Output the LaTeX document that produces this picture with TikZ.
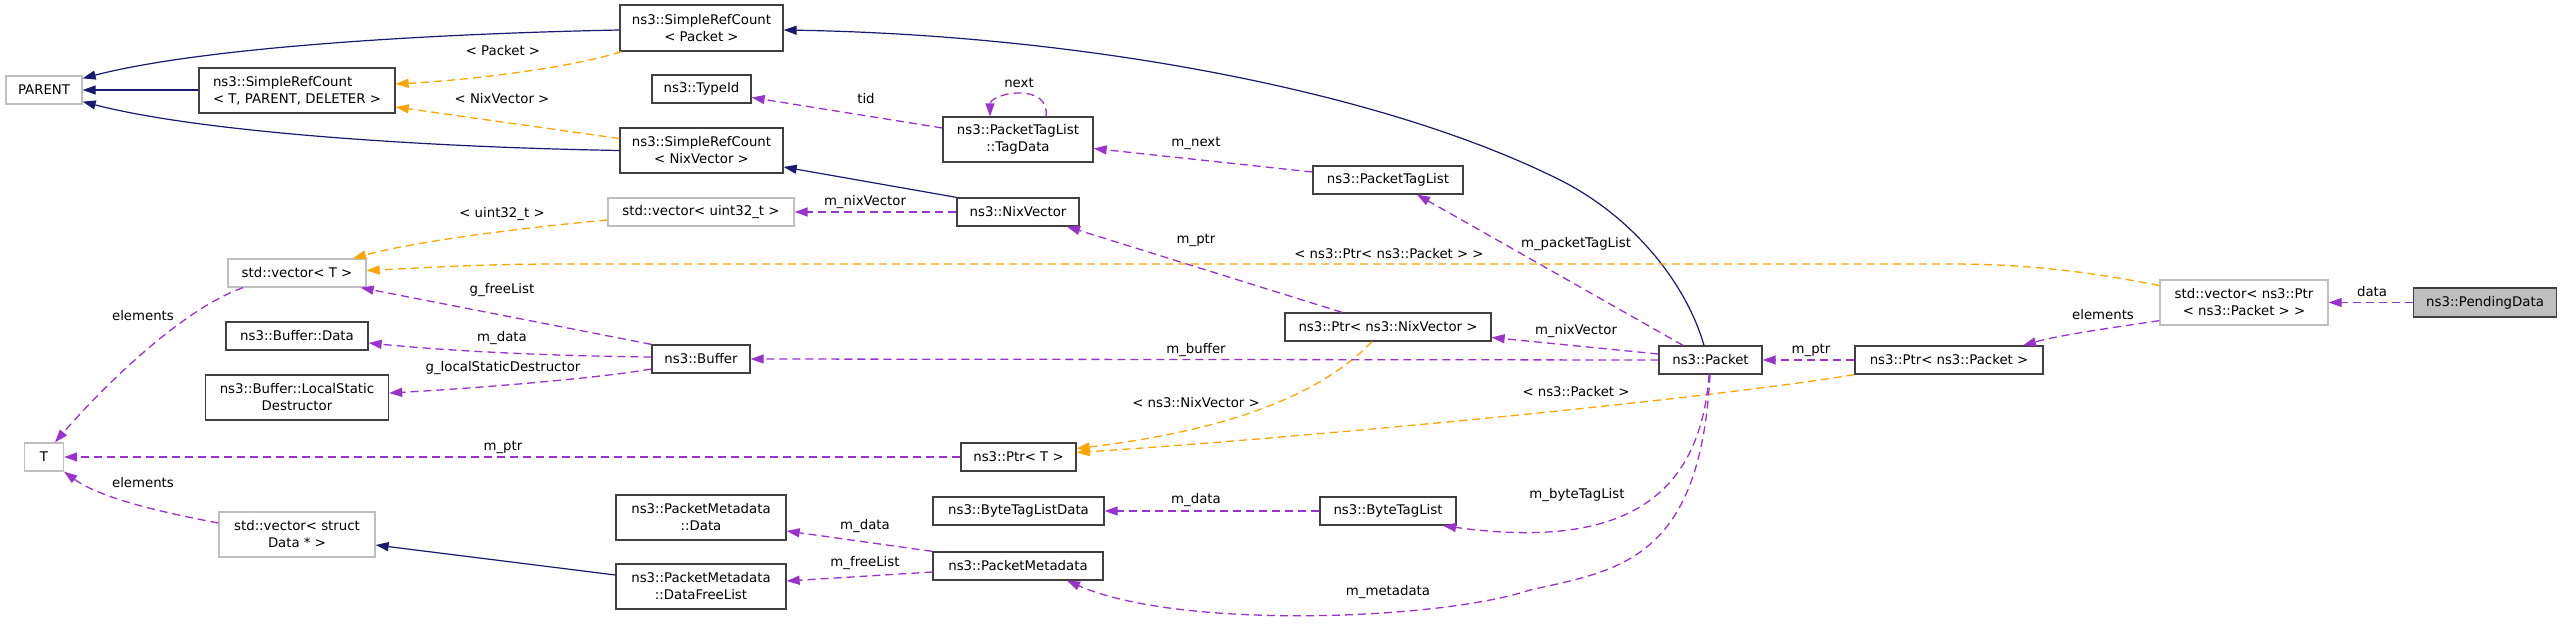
\documentclass[tikz,border=0pt]{standalone}
\usepackage{fontspec}
\setmainfont{DejaVu Sans}
\usetikzlibrary{arrows.meta}
\definecolor{navyc}{HTML}{191970}
\definecolor{purp}{HTML}{9A32CD}
\definecolor{orng}{HTML}{FFA500}
\definecolor{bline}{HTML}{404040}
\definecolor{gline}{HTML}{BFBFBF}
\tikzset{
  box/.style={draw=bline, line width=1.3pt, inner sep=0pt, align=center, font=\fontsize{13.3}{17}\selectfont},
  gbox/.style={box, draw=gline},
  lbl/.style={inner sep=0pt, font=\fontsize{13.3}{17}\selectfont},
  tipa/.style={-{Triangle[length=13pt,width=9pt]}},
  inh/.style={draw=navyc, line width=1.2pt, tipa},
  use/.style={draw=purp, line width=1.3pt, dash pattern=on 8pt off 5pt, tipa},
  tpl/.style={draw=orng, line width=1.3pt, dash pattern=on 8pt off 5pt, tipa},
}
\begin{document}
\begin{tikzpicture}[x=1pt,y=-1pt]
\useasboundingbox (0,0) rectangle (2563,624);
\fill[white] (0,0) rectangle (2563,624);
% nodes
\node[gbox, minimum width=76pt, minimum height=28pt] (parent) at (44,90) {PARENT};
\node[box, minimum width=196pt, minimum height=45pt, align=left] (srctpd) at (297,90.5) {ns3::SimpleRefCount\\< T, PARENT, DELETER >};
\node[box, minimum width=163pt, minimum height=46pt] (srcp) at (701.5,28) {ns3::SimpleRefCount\\< Packet >};
\node[box, minimum width=99pt, minimum height=28pt] (typeid) at (701.5,89) {ns3::TypeId};
\node[box, minimum width=163pt, minimum height=45pt] (srcn) at (701.5,150.5) {ns3::SimpleRefCount\\< NixVector >};
\node[gbox, minimum width=186pt, minimum height=28pt] (vecu) at (701,212) {std::vector< uint32\_t >};
\node[gbox, minimum width=138pt, minimum height=28pt] (vect) at (297,273) {std::vector< T >};
\node[box, minimum width=142pt, minimum height=28pt] (bdata) at (297,336) {ns3::Buffer::Data};
\node[box, minimum width=183pt, minimum height=45pt] (lsd) at (297,397.5) {ns3::Buffer::LocalStatic\\Destructor};
\node[box, minimum width=98pt, minimum height=28pt] (buffer) at (701,359) {ns3::Buffer};
\node[gbox, minimum width=39pt, minimum height=28pt] (T) at (44,457) {T};
\node[gbox, minimum width=156pt, minimum height=45pt] (vecs) at (297,534.5) {std::vector< struct\\Data * >};
\node[box, minimum width=170pt, minimum height=45pt] (pmdata) at (701,517.5) {ns3::PacketMetadata\\::Data};
\node[box, minimum width=170pt, minimum height=45pt] (dfl) at (701,586.5) {ns3::PacketMetadata\\::DataFreeList};
\node[box, minimum width=150pt, minimum height=45pt] (tagdata) at (1018,139.5) {ns3::PacketTagList\\::TagData};
\node[box, minimum width=122pt, minimum height=28pt] (nix) at (1018,212) {ns3::NixVector};
\node[box, minimum width=115pt, minimum height=28pt] (ptrt) at (1018.5,457) {ns3::Ptr< T >};
\node[box, minimum width=171pt, minimum height=28pt] (btld) at (1018.5,511) {ns3::ByteTagListData};
\node[box, minimum width=170pt, minimum height=28pt] (pm) at (1018,566) {ns3::PacketMetadata};
\node[box, minimum width=150pt, minimum height=28pt] (ptl) at (1388,180) {ns3::PacketTagList};
\node[box, minimum width=206pt, minimum height=28pt] (ptrn) at (1388,327) {ns3::Ptr< ns3::NixVector >};
\node[box, minimum width=136pt, minimum height=28pt] (btl) at (1388,511) {ns3::ByteTagList};
\node[box, minimum width=103pt, minimum height=28pt] (pkt) at (1710.5,360) {ns3::Packet};
\node[box, minimum width=188pt, minimum height=28pt] (ptrp) at (1949,360) {ns3::Ptr< ns3::Packet >};
\node[gbox, minimum width=168pt, minimum height=45pt] (vecp) at (2244,302.5) {std::vector< ns3::Ptr\\< ns3::Packet > >};
\node[box, fill=gline, minimum width=143pt, minimum height=29pt] (pend) at (2485,302.5) {ns3::PendingData};

% inheritance edges
\draw[inh] ([yshift=-2pt]srcp.west) .. controls (420,34) and (200,48) .. ([yshift=-3pt]parent.north east);
\draw[inh] ([yshift=0.5pt]srctpd.west) -- (parent.east);
\draw[inh] (srcn.west) .. controls (420,147) and (200,132) .. ([yshift=3pt]parent.south east);
\draw[inh] ([xshift=-6.5pt]pkt.north) .. controls (1685,280) and (1630,215) .. (1560,180) .. controls (1380,90) and (1080,35) .. ([yshift=-2pt]srcp.east);
\draw[inh] (nix.north west) -- ([yshift=-16.5pt]srcn.east);
\draw[inh] ([yshift=11.5pt]dfl.west) -- ([yshift=-10.5pt]vecs.east);

% template edges
\draw[tpl] ([xshift=2pt]srcp.south west) .. controls (570,68) and (470,80) .. ([yshift=6.5pt]srctpd.east);
\draw[tpl] ([yshift=12pt]srcn.west) -- ([yshift=-16.5pt]srctpd.east);
\draw[tpl] ([yshift=-8pt]vecu.west) .. controls (540,226) and (420,240) .. ([xshift=56pt]vect.north);
\draw[tpl] ([yshift=17pt]vecp.west) .. controls (2080,270) and (2020,264) .. (1950,264) -- (560,264) .. controls (480,264) and (420,268) .. ([yshift=2.5pt]vect.east);
\draw[tpl] (ptrp.south west) .. controls (1700,400) and (1300,438) .. ([yshift=4.5pt]ptrt.east);
\draw[tpl] ([xshift=-16pt]ptrn.south) .. controls (1320,395) and (1230,430) .. ([yshift=8.5pt]ptrt.east);

% usage edges
\draw[use] ([yshift=11.5pt]tagdata.west) -- ([yshift=-8.5pt]typeid.east);
\draw[use] ([xshift=28pt]tagdata.north) .. controls (1048,100) and (1036,93) .. (1019,93) .. controls (1002,93) and (990,100) .. ([xshift=-28pt]tagdata.north);
\draw[use] ([yshift=8pt]ptl.west) -- ([yshift=-9pt]tagdata.east);
\draw[use] ([xshift=-27.5pt]pkt.north) -- ([xshift=29pt]ptl.south);
\draw[use] (nix.west) -- (vecu.east);
\draw[use] (ptrt.west) -- (T.east);
\draw[use] ([xshift=-54pt]vect.south) .. controls (180,310) and (100,390) .. ([xshift=11pt]T.north);
\draw[use] ([yshift=11.5pt]vecs.west) .. controls (160,512) and (100,498) .. (T.south east);
\draw[use] (buffer.north west) -- ([xshift=-6pt]vect.south east);
\draw[use] ([yshift=2pt]buffer.west) .. controls (560,356) and (460,352) .. ([yshift=-7pt]bdata.east);
\draw[use] ([yshift=-10pt]buffer.west) .. controls (600,378) and (480,388) .. ([yshift=4.5pt]lsd.east);
\draw[use] (pkt.west) -- (buffer.east);
\draw[use] ([yshift=6pt]pkt.west) -- ([yshift=-10.5pt]ptrn.east);
\draw[use] (ptrp.west) -- (pkt.east);
\draw[use] ([yshift=5pt]vecp.south west) .. controls (2110,328) and (2060,335) .. ([xshift=74pt]ptrp.north);
\draw[use] (pend.west) -- (vecp.east);
\draw[use] ([xshift=-1.5pt]pkt.south) .. controls (1700,500) and (1620,550) .. ([xshift=55pt]btl.south);
\draw[use] ([xshift=-0.5pt]pkt.south) .. controls (1700,560) and (1620,570) .. (1530,590) .. controls (1440,620) and (1180,630) .. ([xshift=49pt]pm.south);
\draw[use] (btl.west) -- (btld.east);
\draw[use] (pm.north west) -- ([yshift=-13.5pt]pmdata.east);
\draw[use] ([yshift=-6pt]pm.west) -- ([yshift=5.5pt]dfl.east);
\draw[use] ([xshift=-46pt]ptrn.north) -- ([xshift=49pt]nix.south);

% labels
\node[lbl] (l1) at (503,51) {< Packet >};
\node[lbl] (l2) at (502,99) {< NixVector >};
\node[lbl] (l3) at (502,214) {< uint32\_t >};
\node[lbl] (l4) at (502,290) {g\_freeList};
\node[lbl] (l5) at (502,338) {m\_data};
\node[lbl] (l6) at (503,368) {g\_localStaticDestructor};
\node[lbl] (l7) at (503,447) {m\_ptr};
\node[lbl] (l8) at (143,316) {elements};
\node[lbl] (l9) at (143,483) {elements};
\node[lbl] (l10) at (866,99) {tid};
\node[lbl] (l11) at (1019,83) {next};
\node[lbl] (l12) at (865,202) {m\_nixVector};
\node[lbl] (l13) at (865,526) {m\_data};
\node[lbl] (l14) at (865,563) {m\_freeList};
\node[lbl] (l15) at (1196,143) {m\_next};
\node[lbl] (l16) at (1196,240) {m\_ptr};
\node[lbl] (l17) at (1389,254) {< ns3::Ptr< ns3::Packet > >};
\node[lbl] (l18) at (1196,350) {m\_buffer};
\node[lbl] (l19) at (1196,403) {< ns3::NixVector >};
\node[lbl] (l20) at (1196,500) {m\_data};
\node[lbl] (l21) at (1388,592) {m\_metadata};
\node[lbl] (l22) at (1576,244) {m\_packetTagList};
\node[lbl] (l23) at (1576,331) {m\_nixVector};
\node[lbl] (l24) at (1811,350) {m\_ptr};
\node[lbl] (l25) at (1576,392) {< ns3::Packet >};
\node[lbl] (l26) at (1577,495) {m\_byteTagList};
\node[lbl] (l27) at (2372,292) {data};
\node[lbl] (l28) at (2103,315) {elements};
\end{tikzpicture}
\end{document}
